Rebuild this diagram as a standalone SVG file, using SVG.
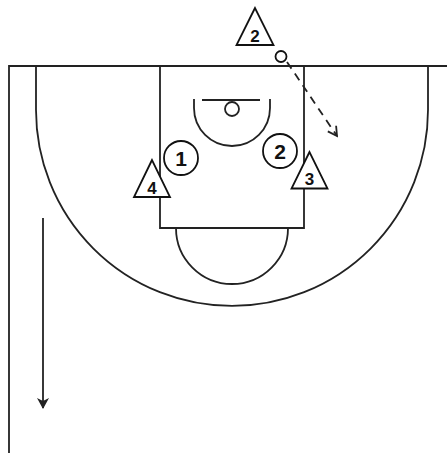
<svg xmlns="http://www.w3.org/2000/svg" width="447" height="453" viewBox="0 0 447 453">
<style>
.court{fill:none;stroke:#222;stroke-width:1.8}
.pl{fill:#fff;stroke:#111;stroke-width:1.8}
.lbl{font-family:"Liberation Sans",Arial,sans-serif;font-weight:bold;font-size:21px;fill:#111;text-anchor:middle}
.tl{font-size:17px}
.mv{fill:none;stroke:#222;stroke-width:1.8}
</style>
<defs>
<marker id="open" markerWidth="12" markerHeight="12" refX="10" refY="6" orient="auto" markerUnits="userSpaceOnUse">
<path d="M1,1 L10,6 L1,11" fill="none" stroke="#222" stroke-width="1.8"/>
</marker>
<marker id="fill" markerWidth="12" markerHeight="14" refX="10" refY="6" orient="auto" markerUnits="userSpaceOnUse">
<path d="M0,0 L11,6 L0,12 L3,6 Z" fill="#222"/>
</marker>
</defs>
<rect width="447" height="453" fill="#fff"/>
<g id="court">
<path class="court" d="M9,453 V66 H447"/>
<path class="court" d="M36,66 V110 A196,196 0 0 0 428,110 V66"/>
<path class="court" d="M160,66 V228 H304 V66"/>
<path class="court" d="M176,228 A56,56 0 0 0 288,228"/>
<path class="court" d="M194,99 V108 A38,38 0 0 0 270,108 V99"/>
<line class="court" x1="202" y1="100" x2="260" y2="100"/>
<circle class="court" cx="232" cy="109" r="7"/>
</g>
<g id="connectors">
<line class="mv" x1="287" y1="62" x2="337" y2="136" stroke-dasharray="8,6" marker-end="url(#open)"/>
<line class="mv" x1="43" y1="218" x2="43" y2="408" marker-end="url(#fill)"/>
</g>
<g id="ball"><circle class="pl" cx="281" cy="56.5" r="5.5"/></g>
<g id="p1"><circle class="pl" cx="181" cy="158" r="17"/><text class="lbl" x="181" y="165.5">1</text></g>
<g id="p2"><circle class="pl" cx="280" cy="151" r="17"/><text class="lbl" x="280" y="158.5">2</text></g>
<g id="d2"><polygon class="pl" points="255,8 236.5,45 273.5,45"/><text class="lbl tl" x="255" y="42">2</text></g>
<g id="d4"><polygon class="pl" points="152,160 134,197 170,197"/><text class="lbl tl" x="152" y="194">4</text></g>
<g id="d3"><polygon class="pl" points="309.5,152 291.5,188.5 327.5,188.5"/><text class="lbl tl" x="309.5" y="185">3</text></g>
</svg>
